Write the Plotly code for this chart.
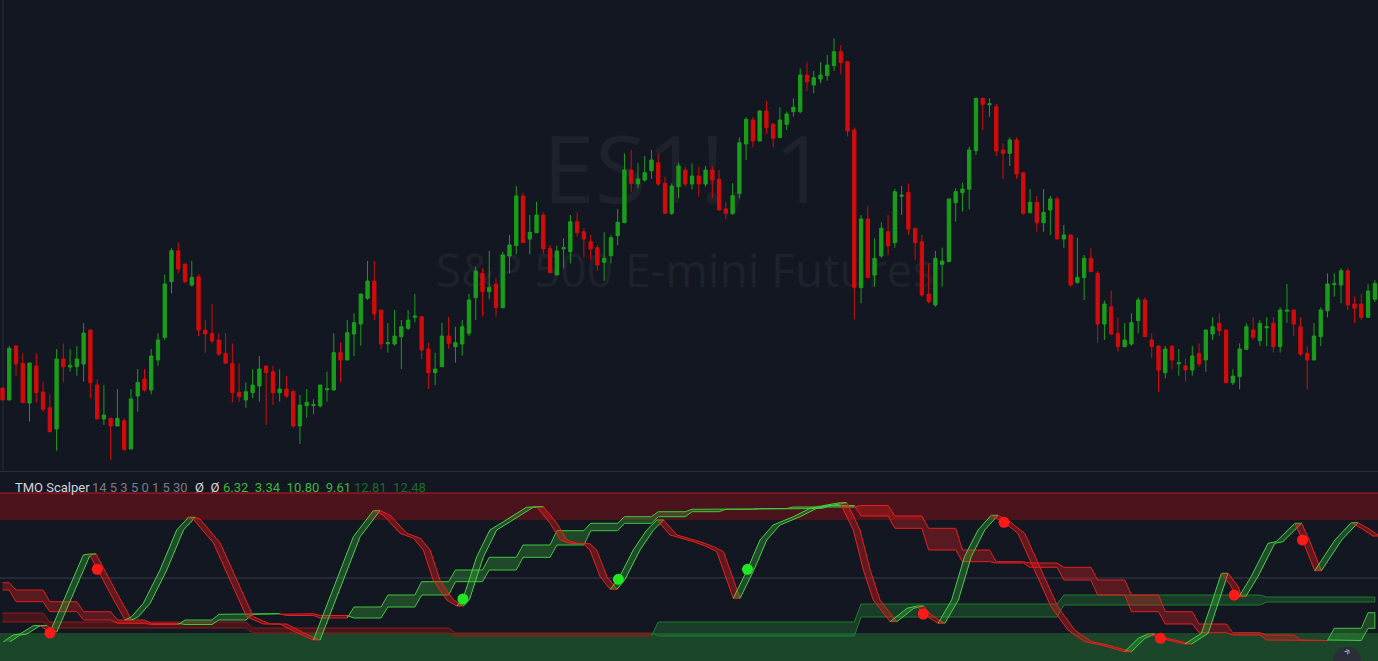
import plotly.graph_objects as go

W, H = 1378, 661
BG = '#131722'
UP = '#1a9e1a'
DN = '#d40b0b'

# ---------------- candle data (price units) ----------------
opens = [82, 70, 124, 106.7, 67, 104, 78, 62.3, 41, 111, 103, 103.3, 106, 140, 85, 51, 51.7, 44, 49.3, 21,
         74, 91, 80, 110, 132.7, 188.3, 219.3, 206, 185, 193.3, 140, 136.7, 130, 116.7, 106.7, 77.7, 70, 77.3, 84, 104,
         98.3, 77.3, 81, 78.3, 44, 64.3, 64.5, 64, 80.2, 80, 117.3, 110, 136, 146, 171.7, 189, 160, 126.2, 126, 133.3,
         141.7, 152.8, 153.3, 121, 97.3, 103.3, 134, 123.3, 126, 136.7, 172.3, 196.7, 178.3, 186, 162.3, 214, 224.3, 274, 231, 237.3,
         255, 221.7, 195, 221.2, 218.3, 248.3, 238.3, 228.3, 222.3, 207.7, 214.3, 234.3, 247.3, 300, 286, 290, 299.3, 307.3, 286.7, 256.7,
         283.3, 300, 286, 294, 286, 300, 290.7, 261, 256.7, 276.7, 326, 350, 329, 359, 346, 332.3, 345.7, 358.3, 358.3, 395,
         385, 391, 394.3, 404.3, 418.3, 408.3, 340, 182.3, 251, 195, 214, 238.3, 227.3, 273.8, 277.7, 241.7, 228.3, 176, 165, 205.7,
         208.3, 267.3, 277.3, 280.7, 319.3, 371.7, 365.2, 363.3, 320, 316.7, 330, 297.3, 257.3, 267.7, 247.3, 260, 271, 231, 235, 187.7,
         192.3, 211.7, 196.7, 146, 163.3, 136.7, 123.3, 126, 149.3, 170, 130, 124, 97.3, 124, 106.2, 104, 100, 116.7, 110, 136,
         146.7, 140, 87.3, 93.3, 120.7, 140, 129.3, 142.2, 146.7, 123.3, 158.8, 160, 143.3, 116.7, 110, 133.3, 159.3, 185.5, 185, 199.3,
         166, 166, 152.7, 170.7]
highs = [82, 124, 124, 116.7, 107, 116.7, 88.3, 75.7, 121, 126.7, 121, 124, 146.7, 140, 90.7, 85, 51.7, 81, 51.7, 81,
         101, 101, 121, 136.7, 195.7, 221.7, 227.7, 206, 209, 195.7, 150, 166, 136.7, 136.7, 126.7, 106.7, 87.7, 100.7, 114, 104,
         104, 100.7, 94, 80.7, 75, 81, 70.7, 85, 98.3, 136.7, 127.3, 150, 156.7, 176, 209, 209, 160, 146.7, 160, 150,
         160, 176, 153.3, 127.3, 117.3, 147.3, 153.3, 143.3, 150, 176, 203.3, 201.7, 219, 191.7, 218.3, 235, 284, 277.3, 255, 268.3,
         257.3, 225, 224.3, 231.7, 255, 257.7, 241.7, 235, 225, 237.7, 235, 261, 316.7, 320, 306.7, 314, 320, 316.7, 293.3, 286.7,
         307.3, 303.3, 306.7, 303.3, 304, 304, 300, 267.7, 286.7, 332.7, 352.7, 352.7, 360, 369.3, 346, 362.7, 358.3, 371.7, 401.7, 407.7,
         399, 407.7, 415, 431.7, 425, 408.3, 342.7, 255, 264.3, 231.7, 247.7, 255, 281, 284, 286.7, 241.7, 235, 206.7, 219, 222.3,
         271, 281.7, 287.3, 323.3, 371.7, 371.7, 371.7, 366, 326.7, 332.7, 332.7, 297.3, 281, 274, 281, 274, 273.3, 245, 235, 232.3,
         215, 221.7, 199, 169.3, 179.3, 152.7, 146.7, 156.7, 172.7, 172.7, 136.7, 124, 124, 124, 121, 111.7, 124, 126.7, 140, 152.7,
         156.7, 140, 100.7, 126.7, 146.7, 152.7, 150, 152.7, 152.7, 162.7, 186, 160, 152.7, 124, 146.7, 162.7, 196.7, 196.7, 201.7, 201.7,
         173.3, 176, 186, 190]
lows = [70, 70, 94.3, 67.3, 48.3, 67.3, 58.3, 38.3, 19.3, 87.7, 98.3, 94.3, 88.3, 71.7, 51, 45, 10, 44, 19.3, 21,
        58.3, 78.3, 75.7, 104.3, 130, 176.7, 196.7, 186.7, 183.3, 134, 117.3, 126.7, 114, 106.7, 67.3, 68, 62.3, 71.7, 68.3, 45,
        65, 68.3, 71.7, 42.3, 26, 52.3, 55.7, 62.7, 68.3, 80, 87.7, 110, 114, 124.3, 170, 150, 120.7, 117.3, 124.3, 101,
        140, 147.7, 111, 81, 85, 103.3, 121, 107.3, 114.3, 134, 150, 153.3, 170.7, 153.3, 161.7, 196.7, 215.7, 227.3, 215.7, 237.3,
        215.7, 196.7, 195, 201.7, 206.7, 233.3, 212.7, 210, 199.3, 189.3, 206.7, 225, 246.7, 278.3, 281.7, 288.3, 291, 284, 256.7, 255,
        271.7, 283.3, 280.7, 273.3, 283.3, 271.7, 260, 250.7, 255, 271.7, 310, 322.7, 329, 336, 322.7, 332.3, 340, 353.3, 356.7, 379,
        376.7, 386.7, 389.3, 399.3, 395.7, 333.3, 150.7, 166.7, 192.3, 183.3, 212.3, 215, 222.3, 255, 235, 210, 173.3, 166.7, 163.3, 183.3,
        208.3, 248.3, 258.3, 260.7, 315, 340, 353.3, 314, 291, 304, 291, 255, 256.7, 238.3, 238.3, 235, 231, 222.3, 183.3, 186,
        170, 198.3, 127.3, 130, 135, 118.3, 123.3, 124.3, 136.7, 133.3, 111.7, 78.3, 91.7, 100.7, 94.3, 88.3, 94.3, 103.3, 98.3, 130,
        134, 87.3, 85, 80.7, 120.7, 130, 124, 124, 117.3, 117.3, 147.3, 134, 114, 80.7, 110, 124, 152.7, 173.3, 166.7, 160,
        146.7, 150, 152.7, 168]
closes = [70, 121.7, 106, 67.3, 107, 77.3, 60.7, 38.3, 111, 103.3, 104.7, 111, 137, 87.3, 51, 55, 44, 51.7, 20.7, 71,
          87.7, 80, 114, 130, 186, 219.3, 201, 188.3, 192.7, 140, 136, 129, 116, 106.7, 77.3, 73.3, 78.3, 85, 101, 97.3,
          77.3, 81, 74, 44, 65, 67.7, 65.5, 85, 81.2, 117.3, 110, 137.3, 147.3, 176, 189, 156, 126, 127.2, 134, 143.3,
          150, 153.8, 120, 97.3, 101, 134, 126.7, 127.3, 143.3, 170, 199, 178.3, 182.7, 162.3, 215, 225, 274, 227.3, 237.7, 255,
          221, 197.3, 219, 222.2, 248.3, 237.3, 231, 221, 205, 211.7, 232.3, 247.7, 300, 286.7, 291, 297.3, 310, 286, 256.7, 284,
          304, 286, 294, 286, 300, 290, 260, 256.7, 274.3, 327.3, 350.7, 329, 359, 342.3, 331.7, 350, 356, 362.7, 395, 388.3,
          392.3, 395, 405, 418.3, 407.3, 339, 182.3, 251, 192.3, 211.7, 241.7, 224.3, 278.3, 274.8, 241, 227.3, 175, 168.3, 211.7, 209,
          271, 278.3, 281, 320, 371.7, 365.7, 366.2, 319, 316.7, 330, 296, 256.7, 267.7, 247.3, 257.7, 271, 231, 235, 185, 192.7,
          211.7, 198.3, 146, 166, 136, 123.3, 130, 147.3, 170, 133.3, 123.3, 100, 121, 110, 107.2, 100, 114, 106, 140, 143.3,
          139.3, 87.3, 94, 121, 143.3, 132.7, 146.7, 143.2, 123.3, 160, 159.8, 146, 116, 110, 134, 160, 186, 186.5, 199.3, 165,
          161.7, 152.7, 179, 186.7]

# ---------------- TMO Scalper oscillator ----------------
# fast pair: main line knots (bar index, value); signal trails it by one bar
fast_x = [0.12, 1.6, 2.59, 4.56, 5.55, 7.03, 9.5, 11.95, 12.84, 14.02, 15.9, 18.12, 19.1, 20.83, 23.3, 25.77,
          27.49, 28.2, 31.2, 34.1, 36.1, 38.6, 41.05, 43.5, 45.98, 48.9, 51.9, 54.85, 56.3, 58.8, 60.8, 62.25,
          63.7, 65.7, 67.2, 68.1, 70.15, 72.1, 74.1, 77.5, 79.0, 81.0, 82.5, 83.95, 85.9, 86.9, 88.4, 89.9,
          91.1, 93.3, 95.3, 96.8, 98.75, 102.2, 104.2, 105.65, 108.1, 110.2, 112.05, 114.0, 117.0, 119.45, 121.9, 123.9,
          125.85, 127.35, 128.8, 131.3, 133.8, 135.25, 136.2, 138.4, 140.4, 142.3, 144.3, 146.25, 148.15, 150.2, 152.7, 155.1,
          157.6, 160.1, 162.5, 166.0, 168.0, 169.45, 171.3, 174.9, 177.35, 178.85, 180.3, 181.8, 182.2, 182.9, 184.7, 187.2,
          188.4, 191.15, 192.3, 194.1, 197.1, 199.5, 201.0, 202.7]
fast_v = [-63.7, -57, -56, -47.7, -47.7, -54, -15.3, 23, 24, 8.7, -15, -42, -38.7, -25.3, 8, 48,
          60.7, 59, 35, -8.7, -38.7, -46, -46, -54.7, -62, -12, 41.3, 67.3, 63, 44.7, 39.7, 28,
          -2, -22, -28, -21, 21.3, 48, 56.3, 70.7, 71.3, 54.7, 38, 34.7, 34.3, 28, 1.3, -11.3,
          -1.3, 28, 48, 58, 43, 36.3, 31.3, 26.3, -20.3, 8.7, 38, 53, 61.3, 69.7, 73, 75.3,
          48, 8, -22, -43.7, -30.3, -28, -36, -45.3, -22, 21.3, 48, 62.7, 55.7, 44.7, 8, -28.7,
          -52, -63.7, -67, -73.7, -60.3, -56, -60.3, -66, -55.3, -25.3, 4.7, -8.7, -17, -18.7, 1.3, 34.7,
          36.3, 54.7, 38, 7.3, 38, 55.3, 49.7, 42]
FAST_LAG = 1.0

# medium pair: one value per 5-bar block (blocks start at bar 2, first entry = partial block)
med_main = [-12, -23.7, -33.7, -42, -45.3, -46.5, -42, -36.3, -35.7, -37.5, -40, -29, -17, -3.7, 8, 20.7,
            33, 47.3, 54.7, 61.3, 66.3, 68.7, 69, 69.5, 71, 72.5, 62, 49.7, 28, 16.3, 15, 10.7,
            -2, -17, -33.7, -46, -54.7, -57, -62, -62.5, -50.3, -34.7]
med_sig = [-4.7, -12, -23.7, -33.7, -42, -45.3, -46.5, -42, -36.3, -35.7, -37.5, -40, -29, -17, -3.7, 8,
           20.7, 33, 47.3, 54.7, 61.3, 66.3, 68.7, 69, 69.5, 71, 72.5, 62, 49.7, 28, 16.3, 15,
           10.7, -2, -17, -33.7, -46, -54.7, -57, -62, -62.5, -50.3]
MED_START, MED_SIZE = 2, 5

# slow pair: one value per 30-bar block (blocks start at bar 7)
slow_main = [-44, -50, -55, -58, -44, -26, -17, -19]
slow_sig = [-35, -44, -50, -55, -58, -39, -27, -24]
SLOW_START, SLOW_SIZE = 7, 30

red_dot_x = [7.03, 14.02, 136.2, 148.15, 171.3, 182.2, 192.3]
red_dot_v = [-55, 8.7, -36, 55.7, -60.3, -17, 38]
green_dot_x = [68.1, 91.1, 110.2]
green_dot_v = [-21, -1.3, 8.7]

OB_LEVELS = (58, 85)
OS_LEVELS = (-55, -95)

legend_parts = [("TMO Scalper", '#d1d4dc', 13), ("14 5 3 5 0 1 5 30", '#787b86', 90),
                ("Ø  Ø", '#d1d4dc', 193), ("6.32  3.34  10.80  9.61", '#3cb83c', 221),
                ("12.81  12.48", '#1d6b28', 352)]

# ---------------------------------------------------------------------------
n = len(opens)
bars = list(range(n))
fig = go.Figure()

fig.add_trace(go.Candlestick(
    x=bars, open=opens, high=highs, low=lows, close=closes,
    increasing=dict(line=dict(color=UP, width=1), fillcolor=UP),
    decreasing=dict(line=dict(color=DN, width=1), fillcolor=DN),
    whiskerwidth=0, xaxis='x', yaxis='y', showlegend=False, hoverinfo='skip'))


def runs(cols):
    out, s = [], 0
    for j in range(1, len(cols) + 1):
        if j == len(cols) or cols[j] != cols[s]:
            out.append((s, j - 1, cols[s]))
            s = j
    return out


def poly(px, py, c, lc_up, lc_dn, fc_up, fc_dn, width=1):
    fig.add_trace(go.Scatter(x=px, y=py, mode='lines', fill='toself',
                             line=dict(color=lc_up if c > 0 else lc_dn, width=width),
                             fillcolor=fc_up if c > 0 else fc_dn,
                             xaxis='x2', yaxis='y2', showlegend=False, hoverinfo='skip'))


def step_pair(mb, sb, start, size, lc_up, lc_dn, fc_up, fc_dn):
    m = [mb[min(max((i - start) // size + 1, 0), len(mb) - 1)] for i in bars]
    s_ = [sb[min(max((i - start) // size + 1, 0), len(sb) - 1)] for i in bars]
    cols = [1 if m[i] >= s_[i] else -1 for i in bars]
    for a, b, c in runs(cols):
        idx = list(range(max(a - 1, 0), b + 1))
        if len(idx) < 2:
            continue
        px = idx + idx[::-1]
        py = [m[i] for i in idx] + [s_[i] for i in idx[::-1]]
        poly(px, py, c, lc_up, lc_dn, fc_up, fc_dn)


# slow pair
step_pair(slow_main, slow_sig, SLOW_START, SLOW_SIZE, '#1f7d2c', '#8e1b1b',
          'rgba(40,150,55,0.30)', 'rgba(170,20,20,0.35)')
# medium pair
step_pair(med_main, med_sig, MED_START, MED_SIZE, '#3fc83f', '#e81e1e',
          'rgba(60,190,60,0.30)', 'rgba(220,30,30,0.35)')

# fast pair
dirs, prev = [], 1
for j in range(len(fast_x) - 1):
    dv = fast_v[j + 1] - fast_v[j]
    c = prev if dv == 0 else (1 if dv > 0 else -1)
    dirs.append(c)
    prev = c
for a, b, c in runs(dirs):
    xs = fast_x[a:b + 2]
    ys = fast_v[a:b + 2]
    px = xs + [x + FAST_LAG for x in xs[::-1]]
    py = ys + ys[::-1]
    poly(px, py, c, '#45d045', '#f01c1c', 'rgba(60,190,60,0.32)', 'rgba(225,30,30,0.38)')

fig.add_trace(go.Scatter(x=red_dot_x, y=red_dot_v, mode='markers',
                         marker=dict(color='#ff1a1a', size=11, line=dict(width=0)),
                         xaxis='x2', yaxis='y2', showlegend=False, hoverinfo='skip'))
fig.add_trace(go.Scatter(x=green_dot_x, y=green_dot_v, mode='markers',
                         marker=dict(color='#22e622', size=11, line=dict(width=0)),
                         xaxis='x2', yaxis='y2', showlegend=False, hoverinfo='skip'))

# ---------------- layout ----------------
top_dom = [1 - 471 / H, 1]
bot_dom = [0, 1 - 472 / H]
xr = [-0.37, 203.47]


def px2py(y):
    return 1 - y / H


shapes = [
    dict(type='rect', xref='paper', yref='y2', x0=0, x1=1, y0=OB_LEVELS[0], y1=OB_LEVELS[1],
         fillcolor='#4b141d', line=dict(width=0), layer='below'),
    dict(type='line', xref='paper', yref='y2', x0=0, x1=1, y0=OB_LEVELS[1], y1=OB_LEVELS[1],
         line=dict(color='#c0191f', width=1), layer='below'),
    dict(type='rect', xref='paper', yref='y2', x0=0, x1=1, y0=OS_LEVELS[0], y1=OS_LEVELS[1],
         fillcolor='#1b4629', line=dict(width=0), layer='below'),
    dict(type='line', xref='paper', yref='y2', x0=0, x1=1, y0=0, y1=0,
         line=dict(color='#3a3e4a', width=1), layer='below'),
    dict(type='line', xref='paper', yref='paper', x0=0, x1=1, y0=px2py(471.5), y1=px2py(471.5),
         line=dict(color='#2a2e39', width=1), layer='below'),
    dict(type='line', xref='paper', yref='paper', x0=3 / W, x1=3 / W, y0=px2py(471), y1=1,
         line=dict(color='#2a2e39', width=1), layer='below'),
    # watermark
    dict(type='rect', xref='paper', yref='paper', x0=480 / W, x1=890 / W, y0=px2py(225), y1=px2py(120),
         line=dict(width=0), fillcolor='rgba(0,0,0,0)', layer='below',
         label=dict(text='ES1!, 1', font=dict(size=94, color='#1e222d', family='Open Sans'),
                    textposition='middle center')),
    dict(type='rect', xref='paper', yref='paper', x0=380 / W, x1=990 / W, y0=px2py(300), y1=px2py(244),
         line=dict(width=0), fillcolor='rgba(0,0,0,0)', layer='below',
         label=dict(text='S&P 500 E-mini Futures', font=dict(size=46, color='#1e222d', family='Open Sans'),
                    textposition='middle center')),
    # corner button
    dict(type='circle', xref='paper', yref='paper', x0=1333 / W, x1=1361 / W, y0=px2py(675), y1=px2py(647),
         fillcolor='#2a2e39', line=dict(width=0)),
]

annotations = []
for text, color, xpx in legend_parts:
    annotations.append(dict(text=text, x=xpx / W, y=px2py(487), xref='paper', yref='paper',
                            xanchor='left', yanchor='middle', showarrow=False,
                            font=dict(size=13, color=color, family='Roboto')))
annotations.append(dict(text='»', x=1347 / W, y=px2py(651), xref='paper', yref='paper',
                        xanchor='center', yanchor='middle', showarrow=False, textangle=-45,
                        font=dict(size=12, color='#b2b5be', family='Roboto')))

fig.update_layout(
    width=W, height=H, margin=dict(l=0, r=0, t=0, b=0),
    paper_bgcolor=BG, plot_bgcolor=BG, showlegend=False,
    xaxis=dict(domain=[0, 1], range=xr, visible=False, anchor='y', rangeslider=dict(visible=False)),
    yaxis=dict(domain=top_dom, range=[-1, 470], visible=False, anchor='x'),
    xaxis2=dict(domain=[0, 1], range=xr, visible=False, anchor='y2'),
    yaxis2=dict(domain=bot_dom, range=[-83, 106], visible=False, anchor='x2'),
    shapes=shapes, annotations=annotations,
)

fig.write_html("out.html", config={'displayModeBar': False},
               post_script="document.body.style.margin='0';document.body.style.background='#131722';")
